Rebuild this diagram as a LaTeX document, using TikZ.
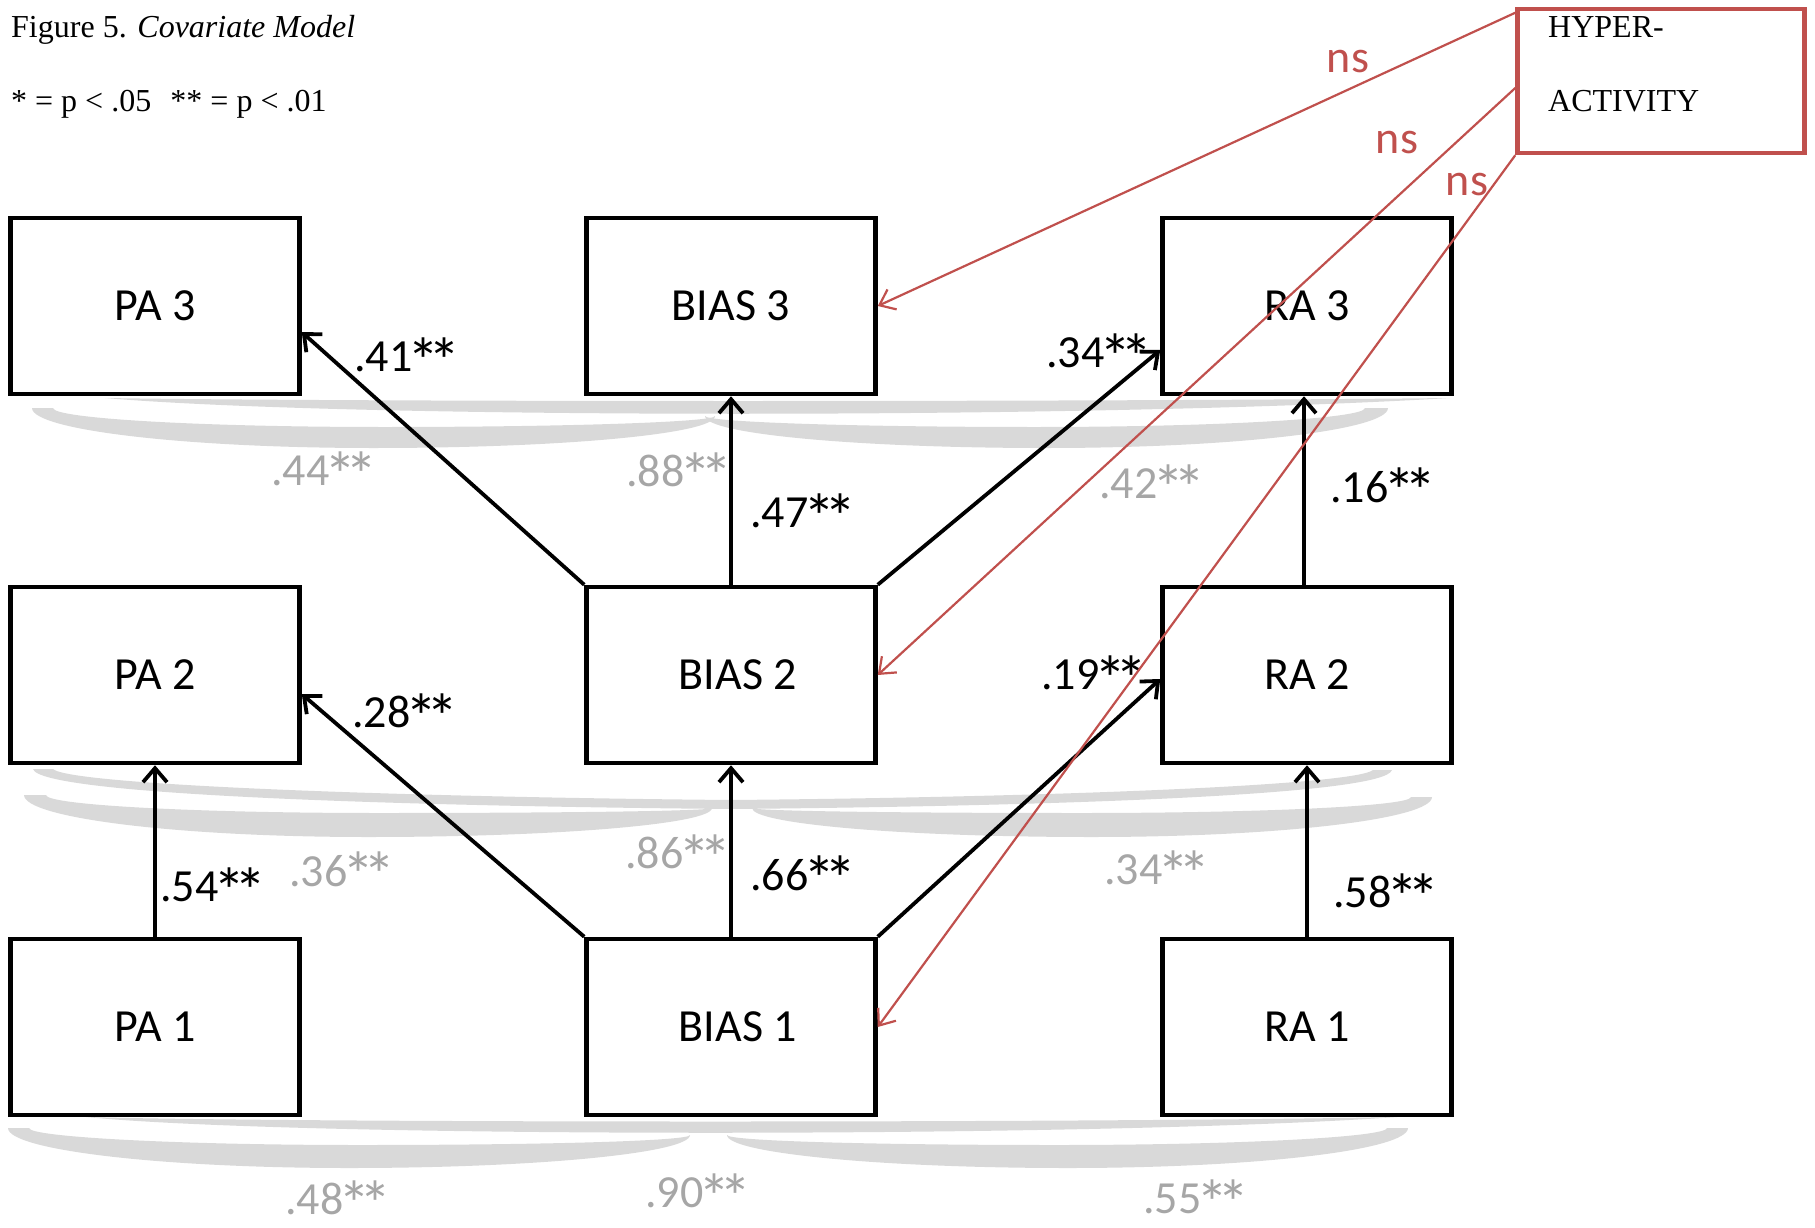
\documentclass[tikz,border=0pt]{standalone}
\usepackage{fontspec}
\setmainfont{Carlito}
\newfontfamily\timesfont{Liberation Serif}
\usetikzlibrary{arrows.meta}
\definecolor{covgray}{HTML}{D9D9D9}
\definecolor{labgray}{HTML}{A6A6A6}
\definecolor{hypred}{HTML}{C0504D}
\newcommand\stk{\makebox[0.47em]{\raisebox{-0.25em}[0.6em][0pt]{\scalebox{1.4}{*}}}}
\newcommand\dstk{\stk\stk}
\begin{document}
\begin{tikzpicture}[x=1pt,y=-1pt,
  varbox/.style={draw=black,line width=4.5pt,fill=white,minimum width=289pt,minimum height=176pt,inner sep=0pt,font=\fontsize{46}{50}\selectfont},
  hypbox/.style={draw=hypred,line width=4.5pt,minimum width=287pt,minimum height=144pt,inner sep=0pt},
  serifbig/.style={anchor=base west,inner sep=0pt,font=\timesfont\fontsize{32}{36}\selectfont},
  arr/.style={line width=3.8pt,-{Straight Barb[length=14pt,width=24pt]}},
  redarr/.style={draw=hypred,line width=2.2pt,-{Straight Barb[length=14pt,width=22pt]}},
  coef/.style={inner sep=0pt,font=\fontsize{46}{50}\selectfont},
  covlab/.style={coef,text=labgray},
  nslab/.style={coef,text=hypred},
  cov/.style={fill=covgray}
]
\useasboundingbox (0,0) rectangle (1815,1228);

% covariance shapes (row 3)
\fill[cov] (105,398) .. controls (350,402) and (1100,402) .. (1450,398) .. controls (1100,419) and (350,419) .. (105,398) -- cycle;
\fill[cov] (32,408) .. controls (32,430) and (185,448) .. (373.5,448) .. controls (562,448) and (715,434) .. (715,416) .. controls (715,422) and (567,427) .. (384,427) .. controls (201,427) and (53,418.5) .. (53,408) -- cycle;
\fill[cov] (1388,408) .. controls (1388,430) and (1235,448) .. (1046.5,448) .. controls (858,448) and (705,434) .. (705,416) .. controls (705,422) and (853,427) .. (1035,427) .. controls (1217,427) and (1365,418.5) .. (1365,408) -- cycle;
% row 2
\fill[cov] (33,769) .. controls (40,795) and (400,806) .. (731,809) -- (731,800) .. controls (400,797) and (70,785) .. (53,769) -- cycle;
\fill[cov] (1392,770) .. controls (1385,795) and (1060,806) .. (731,809) -- (731,800) .. controls (1060,797) and (1355,785) .. (1373,770) -- cycle;
\fill[cov] (24,795) .. controls (24,818) and (178,837) .. (368,837) .. controls (558,837) and (712,824) .. (712,808) .. controls (712,811) and (563,813) .. (379,813) .. controls (195,813) and (46,805) .. (46,795) -- cycle;
\fill[cov] (1432,797) .. controls (1432,819) and (1280,837) .. (1092,837) .. controls (904,837) and (752,824) .. (752,808) .. controls (752,811) and (899.5,813) .. (1081.5,813) .. controls (1263.5,813) and (1411,806) .. (1411,797) -- cycle;
% row 1
\fill[cov] (86,1117) .. controls (300,1123) and (1100,1123) .. (1397,1117) .. controls (1100,1138) and (300,1138) .. (86,1117) -- cycle;
\fill[cov] (8,1128) .. controls (8,1150) and (161,1168) .. (349,1168) .. controls (537,1168) and (690,1153) .. (690,1135) .. controls (690,1141) and (542,1145) .. (360,1145) .. controls (178,1145) and (29,1137) .. (29,1128) -- cycle;
\fill[cov] (1408,1128) .. controls (1408,1150) and (1256,1168) .. (1068,1168) .. controls (880,1168) and (727,1153) .. (727,1135) .. controls (727,1141) and (875,1145) .. (1057,1145) .. controls (1239,1145) and (1387,1137) .. (1387,1128) -- cycle;

% title and legend
\node[serifbig] (title) at (11,38) {Figure 5. \textit{Covariate Model}};
\node[serifbig] (legend) at (11,112) {* = p < .05\hspace{0.6em}** = p < .01};

% boxes
\node[varbox] (pa3) at (155,306) {PA 3};
\node[varbox] (bias3) at (731,306) {BIAS 3};
\node[varbox] (ra3) at (1307,306) {RA 3};
\node[varbox] (pa2) at (155,675) {PA 2};
\node[varbox] (bias2) at (731,675) {\hspace{14pt}BIAS 2};
\node[varbox] (ra2) at (1307,675) {RA 2};
\node[varbox] (pa1) at (155,1027) {PA 1\hspace{28pt}};
\node[varbox] (bias1) at (731,1027) {\hspace{14pt}BIAS 1};
\node[varbox] (ra1) at (1307,1027) {RA 1};

\node[hypbox] (hyper) at (1661,81) {};
\node[serifbig] (hyp1) at (1548,38) {HYPER-};
\node[serifbig] (hyp2) at (1548,112) {ACTIVITY};

% black paths
\draw[arr] (bias2.north west) -- ([yshift=-26pt]pa3.east);
\draw[arr] (bias2.north) -- (bias3.south);
\draw[arr] (bias2.north east) -- ([yshift=-44pt]ra3.west);
\draw[arr] (bias1.north west) -- ([yshift=-19pt]pa2.east);
\draw[arr] (bias1.north) -- (bias2.south);
\draw[arr] (bias1.north east) -- ([yshift=-4pt]ra2.west);
\draw[arr] (pa1.north) -- (pa2.south);
\draw[arr] (ra1.north) -- (ra2.south);
\draw[arr] ([xshift=-3pt]ra2.north) -- ([xshift=-3pt]ra3.south);

% coefficient labels
\node[coef] (l41) at (405,357) {.41\dstk};
\node[coef] (l47) at (801,513) {.47\dstk};
\node[coef] (l34) at (1097,353) {.34\dstk};
\node[coef] (l28) at (403,712) {.28\dstk};
\node[coef] (l66) at (801,875) {.66\dstk};
\node[coef] (l19) at (1092,675) {.19\dstk};
\node[coef] (l54) at (211,887) {.54\dstk};
\node[coef] (l58) at (1384,892) {.58\dstk};
\node[coef] (l16) at (1381,487) {.16\dstk};

% covariance labels
\node[covlab] (c44) at (322,471) {.44\dstk};
\node[covlab] (c88) at (677,471) {.88\dstk};
\node[covlab] (c42) at (1150,484) {.42\dstk};
\node[covlab] (c36) at (340,871) {.36\dstk};
\node[covlab] (c86) at (676,853) {.86\dstk};
\node[covlab] (c34) at (1155,870) {.34\dstk};
\node[covlab] (c48) at (336,1199) {.48\dstk};
\node[covlab] (c90) at (696,1193) {.90\dstk};
\node[covlab] (c55) at (1194,1199) {.55\dstk};

% hyperactivity paths
\draw[redarr] ([yshift=-6pt]hyper.north west) -- (bias3.east);
\draw[redarr] ([yshift=-7pt]hyper.west) -- (bias2.east);
\draw[redarr] (hyper.south west) -- (bias1.east);
\node[nslab] (ns1) at (1348,62) {ns};
\node[nslab] (ns2) at (1397,143) {ns};
\node[nslab] (ns3) at (1467,185) {ns};
\end{tikzpicture}
\end{document}
